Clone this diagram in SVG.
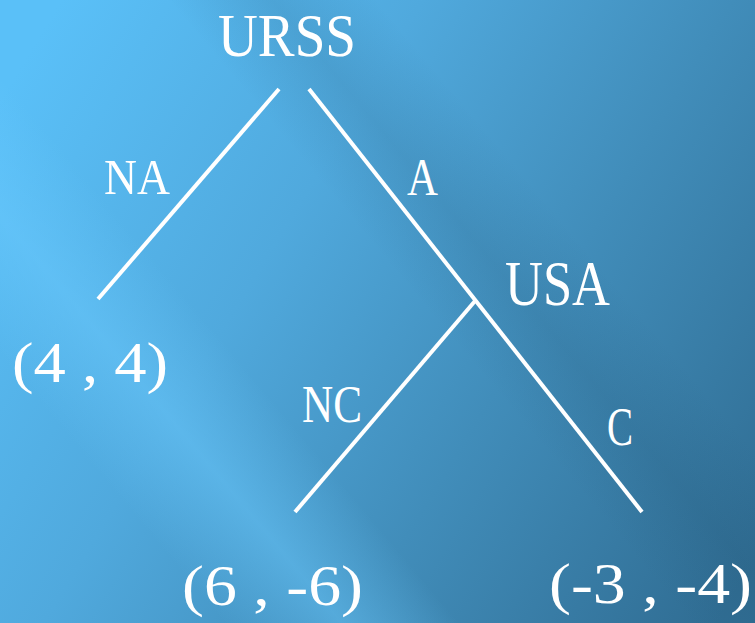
<svg xmlns="http://www.w3.org/2000/svg" width="755" height="623" viewBox="0 0 755 623">
<defs>
<linearGradient id="bg" x1="0" y1="100" x2="755" y2="560" gradientUnits="userSpaceOnUse">
<stop offset="0" stop-color="#5ac0f8"/>
<stop offset="0.35" stop-color="#50a9dd"/>
<stop offset="0.65" stop-color="#418dba"/>
<stop offset="1" stop-color="#306d93"/>
</linearGradient>
<linearGradient id="band" x1="0" y1="0" x2="1" y2="0">
<stop offset="0" stop-color="#6ccbff" stop-opacity="0"/>
<stop offset="0.5" stop-color="#6ccbff" stop-opacity="0.45"/>
<stop offset="1" stop-color="#6ccbff" stop-opacity="0"/>
</linearGradient>
<linearGradient id="band2" x1="0" y1="0" x2="1" y2="0">
<stop offset="0" stop-color="#20506e" stop-opacity="0"/>
<stop offset="0.5" stop-color="#20506e" stop-opacity="0.15"/>
<stop offset="1" stop-color="#20506e" stop-opacity="0"/>
</linearGradient>
<style>
.t{fill:#ffffff;font-family:"Liberation Serif","DejaVu Serif",serif}
.e{stroke:#ffffff;stroke-width:4;fill:none}
</style>
</defs>
<rect width="755" height="623" fill="url(#bg)"/>
<g transform="rotate(-40 180 430)">
<rect x="90" y="-300" width="180" height="1400" fill="url(#band)"/>
</g>
<g transform="rotate(-40 650 450)">
<rect x="570" y="-300" width="160" height="1400" fill="url(#band2)"/>
</g>
<g id="edges">
<line class="e" x1="279" y1="89" x2="98" y2="299"/>
<line class="e" x1="309" y1="89" x2="642" y2="512"/>
<line class="e" x1="475" y1="301" x2="295" y2="512"/>
</g>
<g id="node-urss"><text class="t" x="218" y="56" font-size="62" textLength="138" lengthAdjust="spacingAndGlyphs">URSS</text></g>
<g id="node-usa"><text class="t" x="505" y="305" font-size="64" textLength="105" lengthAdjust="spacingAndGlyphs">USA</text></g>
<g id="label-na"><text class="t" x="104" y="194" font-size="51" textLength="66" lengthAdjust="spacingAndGlyphs">NA</text></g>
<g id="label-a"><text class="t" x="407" y="195" font-size="53" textLength="31" lengthAdjust="spacingAndGlyphs">A</text></g>
<g id="label-nc"><text class="t" x="302" y="422" font-size="53" textLength="60" lengthAdjust="spacingAndGlyphs">NC</text></g>
<g id="label-c"><text class="t" x="607" y="445" font-size="55" textLength="26" lengthAdjust="spacingAndGlyphs">C</text></g>
<g id="payoff-44"><text class="t" x="12" y="382" font-size="58" textLength="156" lengthAdjust="spacingAndGlyphs">(4 , 4)</text></g>
<g id="payoff-6-6"><text class="t" x="182" y="605" font-size="58" textLength="181" lengthAdjust="spacingAndGlyphs">(6 , -6)</text></g>
<g id="payoff-3-4"><text class="t" x="549" y="603" font-size="58" textLength="203" lengthAdjust="spacingAndGlyphs">(-3 , -4)</text></g>
</svg>
